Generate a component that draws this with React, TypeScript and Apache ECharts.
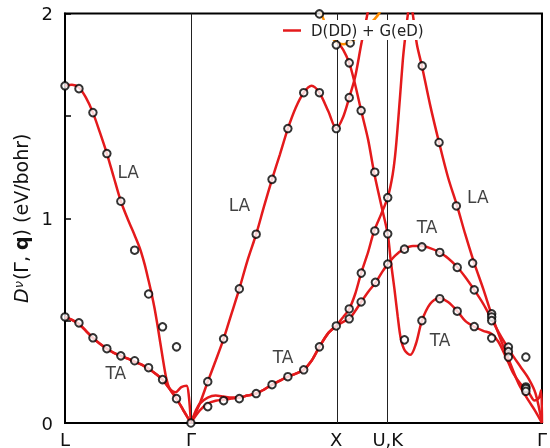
import React, { useEffect, useRef } from 'react';
import * as echarts from 'echarts';

// high-symmetry path (distance along path) and labels
const pathTicks = [0, 0.866, 1.866, 2.22, 3.281];
const pathLabels = ['L', 'Γ', 'X', 'U,K', 'Γ'];
const legendName = 'D(DD) + G(eD)';

// model curves [q, D] (eV/bohr)
const laLG = [[0,1.647],[0.048,1.652],[0.096,1.638],[0.144,1.589],[0.192,1.516],[0.240,1.419],[0.288,1.316],[0.336,1.199],[0.384,1.083],[0.432,0.995],[0.479,0.917],[0.514,0.855],[0.548,0.775],[0.575,0.695],[0.596,0.630],[0.616,0.560],[0.639,0.465],[0.673,0.314],[0.697,0.217],[0.719,0.168],[0.767,0.119],[0.815,0.061],[0.866,0]];
const taLG = [[0,0.518],[0.048,0.504],[0.096,0.484],[0.144,0.450],[0.192,0.416],[0.240,0.387],[0.288,0.363],[0.336,0.343],[0.384,0.328],[0.432,0.314],[0.479,0.299],[0.527,0.285],[0.575,0.265],[0.623,0.241],[0.671,0.212],[0.719,0.168],[0.767,0.119],[0.815,0.061],[0.866,0]];
const taLGBump = [[0.760,0.150],[0.800,0.175],[0.836,0.182],[0.852,0.130],[0.866,0]];
const laGX = [[0.866,0],[0.927,0.095],[0.982,0.202],[1.036,0.304],[1.091,0.411],[1.145,0.533],[1.199,0.655],[1.254,0.791],[1.315,0.922],[1.369,1.058],[1.424,1.190],[1.478,1.311],[1.533,1.438],[1.587,1.540],[1.642,1.613],[1.696,1.647],[1.750,1.613],[1.812,1.521],[1.866,1.438],[1.914,1.496],[1.955,1.589],[1.996,1.691],[2.037,1.847],[2.065,1.944],[2.085,2.017],[2.110,2.15]];
const taGX = [[0.866,0],[0.900,0.061],[0.927,0.095],[0.982,0.124],[1.036,0.134],[1.091,0.129],[1.145,0.124],[1.199,0.124],[1.254,0.134],[1.315,0.144],[1.369,0.163],[1.424,0.187],[1.478,0.207],[1.533,0.226],[1.587,0.241],[1.642,0.260],[1.696,0.304],[1.750,0.372],[1.812,0.440],[1.866,0.474]];
const taGXLow = [[0.866,0],[0.927,0.061],[0.982,0.095],[1.036,0.109],[1.091,0.114],[1.145,0.119],[1.199,0.124]];
const branchDown = [[1.880,1.856],[1.914,1.822],[1.955,1.759],[1.996,1.652],[2.037,1.526],[2.085,1.384],[2.126,1.224],[2.174,1.068],[2.220,0.922],[2.241,0.791],[2.266,0.655],[2.289,0.518],[2.310,0.411],[2.338,0.353],[2.376,0.333],[2.414,0.387],[2.455,0.499],[2.511,0.581],[2.573,0.611],[2.635,0.591],[2.698,0.547],[2.753,0.499],[2.815,0.470],[2.877,0.450],[2.933,0.436],[2.981,0.397],[3.029,0.328],[3.085,0.241],[3.133,0.192],[3.189,0.150],[3.230,0.110],[3.258,0.120],[3.275,0.160],[3.281,0]];
const branchUp = [[1.866,0.474],[1.914,0.518],[1.955,0.557],[1.996,0.630],[2.037,0.732],[2.085,0.835],[2.126,0.937],[2.174,1.019],[2.220,1.102],[2.254,1.214],[2.275,1.336],[2.303,1.579],[2.324,1.774],[2.338,1.871],[2.358,1.993],[2.375,2.06],[2.393,1.993],[2.421,1.847],[2.455,1.744],[2.511,1.555],[2.573,1.370],[2.635,1.199],[2.698,1.058],[2.753,0.922],[2.815,0.781],[2.877,0.655],[2.933,0.533],[2.995,0.411],[3.050,0.314],[3.120,0.192],[3.189,0.109],[3.237,0.056],[3.281,0]];
const taUpper = [[1.866,0.474],[1.914,0.494],[1.955,0.509],[1.996,0.547],[2.037,0.591],[2.085,0.640],[2.140,0.689],[2.181,0.737],[2.220,0.776],[2.275,0.820],[2.331,0.849],[2.393,0.864],[2.455,0.864],[2.511,0.854],[2.573,0.835],[2.635,0.805],[2.698,0.762],[2.753,0.713],[2.815,0.650],[2.877,0.582],[2.933,0.509],[2.981,0.445],[3.029,0.387],[3.085,0.324],[3.133,0.275],[3.189,0.217],[3.237,0.144],[3.281,0]];
const orangeBranch = [[1.733,2.05],[1.774,1.98],[1.812,1.91],[1.866,1.86],[1.914,1.85],[1.962,1.86],[2.017,1.89],[2.072,1.93],[2.126,1.97],[2.160,2.0],[2.194,2.05]];

// reference points (open circles)
const dftLG = [[0,1.647],[0.096,1.633],[0.192,1.516],[0.288,1.316],[0.384,1.083],[0.479,0.844],[0.575,0.630],[0.671,0.470],[0.767,0.372],[0,0.518],[0.096,0.489],[0.192,0.416],[0.288,0.363],[0.384,0.328],[0.479,0.304],[0.575,0.270],[0.671,0.212],[0.767,0.119],[0.866,0]];
const dftGX = [[0.982,0.202],[1.091,0.411],[1.199,0.655],[1.315,0.922],[1.424,1.190],[1.533,1.438],[1.642,1.613],[1.750,1.613],[1.866,1.438],[0.982,0.080],[1.091,0.109],[1.199,0.119],[1.315,0.144],[1.424,0.187],[1.533,0.226],[1.642,0.260],[1.750,0.372],[1.866,0.474],[1.750,1.998],[1.866,1.847]];
const dftXK = [[1.962,1.856],[1.955,1.759],[1.955,1.589],[2.037,1.526],[2.131,1.225],[2.220,1.101],[2.131,0.938],[2.220,0.924],[2.220,0.776],[2.038,0.732],[2.135,0.687],[1.955,0.557],[2.037,0.591],[1.955,0.509]];
const dftKG = [[2.457,1.744],[2.573,1.370],[2.692,1.060],[2.804,0.781],[2.335,0.849],[2.455,0.860],[2.578,0.833],[2.698,0.760],[2.815,0.650],[2.335,0.406],[2.455,0.500],[2.578,0.607],[2.698,0.546],[2.815,0.471],[2.935,0.415],[2.935,0.533],[2.935,0.518],[2.935,0.500],[3.050,0.371],[3.050,0.349],[3.050,0.322],[3.170,0.322],[3.170,0.176],[3.170,0.168],[3.170,0.155]];

// branch labels [q, D, text]
const branchLabels: [number, number, string][] = [
  [0.435, 1.225, 'LA'], [0.35, 0.245, 'TA'], [1.20, 1.065, 'LA'],
  [1.50, 0.32, 'TA'], [2.84, 1.105, 'LA'], [2.49, 0.955, 'TA'], [2.58, 0.405, 'TA'],
];

export default function App() {
  const ref = useRef<HTMLDivElement>(null);
  useEffect(() => {
    const chart = echarts.init(ref.current!, null, { renderer: 'svg' });
    const red = '#e41a1c';
    const font = 'DejaVu Sans';
    const ink = '#111';
    const model = [
      laLG, taLG, taLG.slice(0, 16).concat(taLGBump),
      laGX, taGX, taGXLow.concat(taGX.slice(8)),
      branchDown, branchUp, taUpper,
    ];
    const series: any[] = [];
    series.push({
      type: 'line', name: 'orange', data: orangeBranch, symbol: 'none', smooth: 0.3, clip: true,
      lineStyle: { color: '#ff8c00', width: 2.5 }, z: 2, silent: true,
      markLine: {
        silent: true, symbol: 'none', label: { show: false },
        lineStyle: { color: '#222', width: 1, type: 'solid' },
        data: pathTicks.slice(1, 4).map((q) => ({ xAxis: q })),
      },
    });
    model.forEach((d) => series.push({
      type: 'line', name: legendName, data: d, symbol: 'none', smooth: 0.3, clip: true,
      lineStyle: { color: red, width: 2.5 }, itemStyle: { color: red }, z: 3, silent: true,
    }));
    series.push({
      type: 'scatter', name: 'DFT', data: [...dftLG, ...dftGX, ...dftXK, ...dftKG],
      symbol: 'circle', symbolSize: 7.5, z: 5, silent: true,
      itemStyle: { color: '#fff', borderColor: '#000', borderWidth: 2 },
    });
    series.push({
      type: 'scatter', name: 'labels', data: branchLabels.map((b) => ({ value: [b[0], b[1]], name: b[2] })),
      symbolSize: 0, z: 6, silent: true,
      label: { show: true, position: 'inside', formatter: (p: any) => p.name, fontFamily: font, fontSize: 17, color: ink },
    });

    chart.setOption({
      animation: false,
      grid: { left: 65, right: 6, top: 13.5, bottom: 23.5, show: true, borderColor: '#000', borderWidth: 2, backgroundColor: 'transparent' },
      legend: {
        data: [legendName], left: 278, top: 20, padding: [3, 6, 2, 5], backgroundColor: '#fff',
        icon: 'rect', itemWidth: 18, itemHeight: 2.5, selectedMode: false, z: 20,
        textStyle: { fontFamily: font, fontSize: 15, color: '#222', padding: [0, 0, 0, 5] },
      },
      xAxis: {
        type: 'value', min: 0, max: 3.281,
        axisLine: { show: true, onZero: false, lineStyle: { color: '#000', width: 2 } },
        axisTick: { show: false },
        splitLine: { show: false },
        axisLabel: {
          customValues: pathTicks, fontFamily: font, fontSize: 18, color: ink, margin: 7,
          formatter: (v: number) => {
            const i = pathTicks.findIndex((t) => Math.abs(t - v) < 1e-6);
            return i >= 0 ? pathLabels[i] : '';
          },
        },
      },
      yAxis: {
        type: 'value', min: 0, max: 2, interval: 0.5,
        name: '{i|D}{s|ν}(Γ, {b|q}) (eV/bohr)', nameLocation: 'middle', nameGap: 34, nameRotate: 90,
        nameTextStyle: {
          fontFamily: font, fontSize: 19, color: ink,
          rich: {
            i: { fontFamily: font, fontSize: 19, fontStyle: 'italic', color: ink },
            s: { fontFamily: font, fontSize: 13, fontStyle: 'italic', color: ink, verticalAlign: 'top', padding: [0, 1, 0, 0] },
            b: { fontFamily: font, fontSize: 19, fontWeight: 'bold', color: ink },
          },
        },
        axisLine: { show: true, lineStyle: { color: '#000', width: 2 } },
        axisTick: { show: true, inside: true, length: 6, lineStyle: { color: '#000', width: 1.5 } },
        splitLine: { show: false },
        axisLabel: {
          fontFamily: font, fontSize: 18, color: ink, margin: 12,
          formatter: (v: number) => (Number.isInteger(v) ? String(v) : ''),
        },
      },
      series,
    });
    return () => chart.dispose();
  }, []);
  return <div ref={ref} style={{ position: 'fixed', left: 0, top: 0, width: 550, height: 448 }} />;
}
